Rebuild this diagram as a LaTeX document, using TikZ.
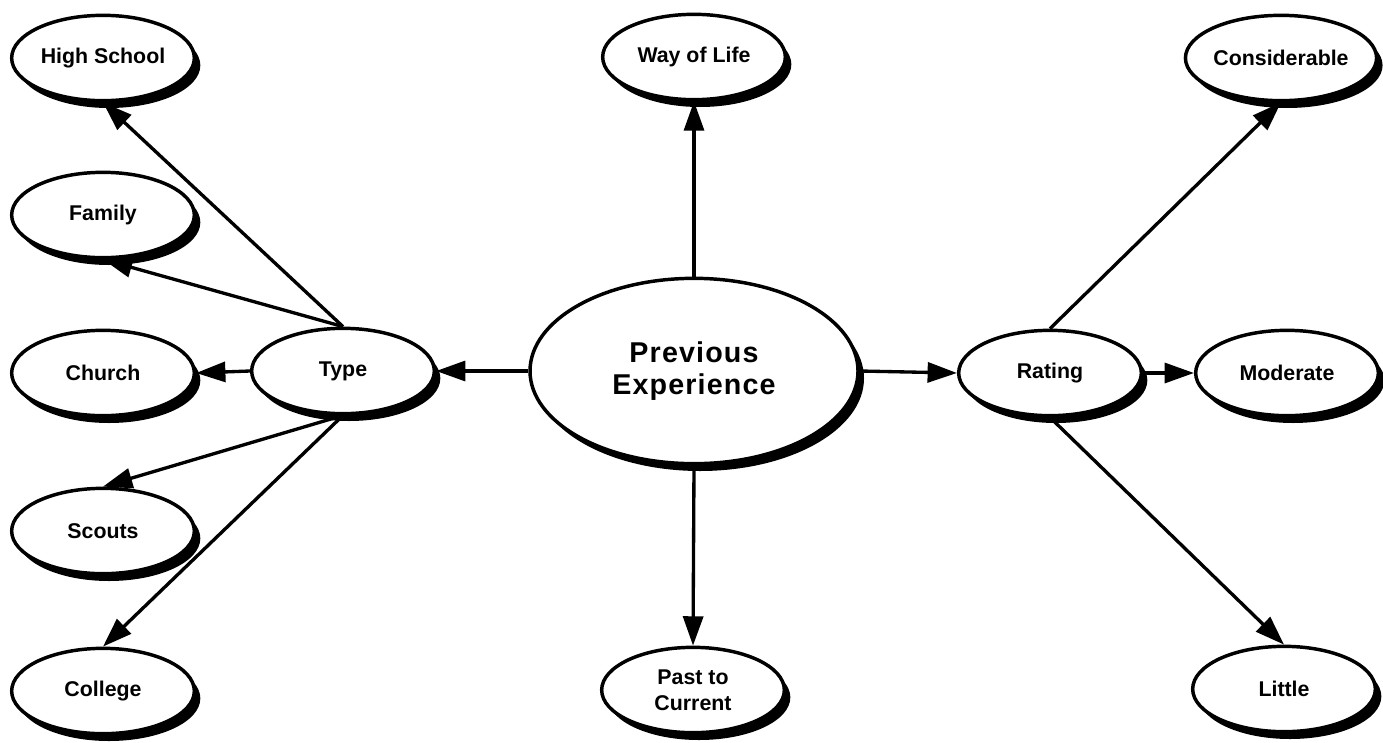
\documentclass[tikz,border=0pt]{standalone}
\usepackage{fontspec}
\setmainfont{Liberation Sans}
\usetikzlibrary{shapes.geometric,shadows,arrows.meta}
\begin{document}
\begin{tikzpicture}[x=0.75pt,y=-0.75pt,
  bubble/.style={ellipse, draw, line width=2.6pt, fill=white, inner sep=0pt,
    minimum width=137pt, minimum height=64pt, align=center,
    font=\fontsize{16}{19.5}\selectfont\bfseries,
    drop shadow={shadow xshift=4.5pt, shadow yshift=-5.5pt, fill=black, opacity=1}},
  hub/.style={bubble, minimum width=246pt, minimum height=139pt,
    font=\fontsize{21.5}{23.5}\selectfont\bfseries\addfontfeature{LetterSpace=4}},
  link/.style={line width=2.5pt, -{Triangle[length=22pt,width=15pt]}}]
\useasboundingbox (0,0) rectangle (1383,742);

% left column
\node[bubble] (high)    at (103,58)  {High School};
\node[bubble] (family)  at (103,215) {Family};
\node[bubble] (church)  at (103,373) {Church};
\node[bubble] (scouts)  at (103,531) {Scouts};
\node[bubble] (college) at (103,691) {College};

% centre column
\node[bubble] (way)  at (694,57)  {Way of Life};
\node[hub]    (pe)   at (694,371) {Previous\\Experience};
\node[bubble] (past) at (693,690) {Past to\\Current};

% intermediate nodes
\node[bubble] (type)   at (343,371)  {Type};
\node[bubble] (rating) at (1050,373) {Rating};

% right column
\node[bubble] (consid)   at (1281,58)  {Considerable};
\node[bubble] (moderate) at (1287,373) {Moderate};
\node[bubble] (little)   at (1284,689) {Little};

% connectors
\draw[link] (pe.north) -- (way.south);
\draw[link] (pe.south) -- (past.north);
\draw[link] (pe.west) -- (type.east);
\draw[link] (pe.east) -- (rating.west);
\draw[link] (type.west) -- (church.east);
\draw[link] (type.north) -- (high.south);
\draw[link] (type.north) -- (family.south);
\draw[link] (type.south) -- (scouts.north);
\draw[link] (type.south) -- (college.north);
\draw[link] (rating.east) -- (moderate.west);
\draw[link] (rating.north) -- (consid.south);
\draw[link] (rating.south) -- (little.north);
\end{tikzpicture}
\end{document}
